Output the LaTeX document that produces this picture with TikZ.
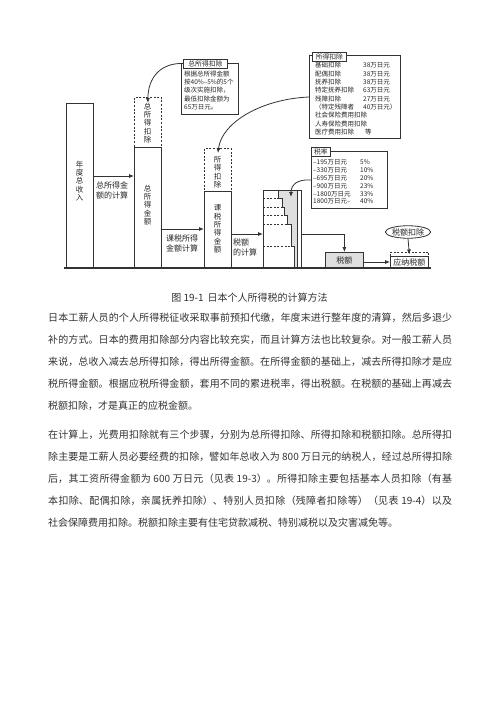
\documentclass[tikz,border=0pt]{standalone}
\usepackage{fontspec}
\setmainfont{Noto Sans CJK SC}
\usetikzlibrary{arrows.meta,shapes.geometric}
\XeTeXlinebreaklocale "zh"
\XeTeXlinebreakskip=0pt plus 1pt
\begin{document}
\begin{tikzpicture}[x=1pt,y=-1pt,
  ln/.style={draw=black!80, line width=0.8pt},
  bar/.style={ln, fill=white, inner sep=0pt, anchor=north west},
  dbar/.style={bar, dash pattern=on 2pt off 1.6pt},
  vt/.style={font=\fontsize{7.5}{8.4}\selectfont, align=center, inner sep=0pt, text=black!85},
  lbl/.style={font=\fontsize{8}{10}\selectfont, align=left, inner sep=0pt, anchor=north west, text=black!85},
  arr/.style={ln, -{Latex[length=5pt,width=4pt]}},
  small/.style={font=\fontsize{6.5}{8.33}\selectfont, align=left, inner sep=0pt, anchor=north west, text=black!85},
  tabbox/.style={ln, fill=white, font=\fontsize{6.8}{7}\selectfont, inner sep=0pt, anchor=north west, minimum height=9pt, text=black!85},
  para/.style={text width=404pt, align=justify, inner sep=0pt, anchor=north west, font=\fontsize{10}{22}\selectfont, text=black!80}
]
\useasboundingbox (0,0) rectangle (500,707);
\fill[white] (0,0) rectangle (500,707);

% bars
\node[bar, minimum width=27pt, minimum height=165pt] (bar1) at (66,103) {};
\node[dbar, minimum width=27pt, minimum height=50pt] (bar2t) at (134,97) {};
\node[bar, minimum width=27pt, minimum height=121pt] (bar2) at (134,147) {};
\node[dbar, minimum width=27pt, minimum height=43pt] (bar3t) at (204,148) {};
\node[bar, minimum width=27pt, minimum height=77pt] (bar3) at (204,191) {};
\node[bar, minimum width=38pt, minimum height=78pt] (bar4) at (263,190) {};

% staircase
\fill[gray!25] (278.7,190) -- (278.7,198.7) -- (282,198.7) -- (282,207) -- (284.7,207) -- (284.7,215.3) -- (287.3,215.3) -- (287.3,224.3) -- (291.3,224.3) -- (291.3,246) -- (294,246) -- (294,268) -- (297,268) -- (297,190) -- cycle;
\draw[ln] (278.7,190) -- (278.7,198.7) -- (282,198.7) -- (282,207) -- (284.7,207) -- (284.7,215.3) -- (287.3,215.3) -- (287.3,224.3) -- (291.3,224.3) -- (291.3,246) -- (294,246) -- (294,268);
\draw[ln] (297,190) -- (297,268);
\draw[ln] (bar4.north west) rectangle (bar4.south east);
\draw[ln, dash pattern=on 2pt off 1.6pt] (263,198.7) -- (278.7,198.7) (263,207) -- (282,207) (263,215.3) -- (284.7,215.3) (263,224.3) -- (287.3,224.3) (263,246) -- (291.3,246);
\coordinate (stairtop) at (291,190);

% bar texts
\node[vt] (t1) at (79.5,181) {年\\度\\总\\收\\入};
\node[vt] (t2a) at (147.5,123) {总\\所\\得\\扣\\除};
\node[vt] (t2b) at (147.5,205) {总\\所\\得\\金\\额};
\node[vt] (t3a) at (217.5,172) {所\\得\\扣\\除};
\node[vt] (t3b) at (217.5,229) {课\\税\\所\\得\\金\\额};

% step labels
\node[lbl] (l1) at (96,182) {总所得金\\额的计算};
\node[lbl] (l2) at (166,235) {课税所得\\金额计算};
\node[lbl] (l3) at (233,239) {税额\\的计算};

% arrows between bars
\draw[arr] (bar1.east |- 0,176) -- (bar2.west |- 0,176);
\draw[arr] (bar2.east |- 0,229) -- (bar3.west |- 0,229);
\draw[arr] (bar3.east |- 0,234) -- (bar4.west |- 0,234);

% info box 1
\node[bar, minimum width=57pt, minimum height=51pt] (info1) at (181,63) {};
\node[tabbox, minimum width=44pt] (tab1) at (183,58.5) {总所得扣除};
\node[small] (info1t) at (184,70.6) {根据总所得金额\\按40\%–5\%的5个\\级次实施扣除，\\最低扣除金额为\\65万日元。};

% info box 2
\node[bar, minimum width=91pt, minimum height=83pt] (info2) at (309,55) {};
\node[tabbox, minimum width=34pt] (tab2) at (312,52) {所得扣除};
\node[small] (info2t) at (315,62.2) {\makebox[48pt][l]{基础扣除}38万日元\\
\makebox[48pt][l]{配偶扣除}38万日元\\
\makebox[48pt][l]{抚养扣除}38万日元\\
\makebox[48pt][l]{特定抚养扣除}63万日元\\
\makebox[48pt][l]{残障扣除}27万日元\\
\makebox[48pt][l]{（特定残障者}40万日元）\\
社会保险费用扣除\\
人寿保险费用扣除\\
\makebox[50pt][l]{医疗费用扣除}等};

% info box 3
\node[bar, minimum width=76pt, minimum height=57pt] (info3) at (311,151) {};
\node[tabbox, minimum width=19pt] (tab3) at (311,147) {税率};
\node[small, font=\fontsize{6.5}{7.8}\selectfont] (info3t) at (313,159.7) {\makebox[47pt][l]{–195万日元}5\%\\
\makebox[47pt][l]{–330万日元}10\%\\
\makebox[47pt][l]{–695万日元}20\%\\
\makebox[47pt][l]{–900万日元}23\%\\
\makebox[47pt][l]{–1800万日元}33\%\\
\makebox[47pt][l]{1800万日元–}40\%};

% curved arrows
\draw[arr] (tab1.west) .. controls (160,63) and (148,78) .. ([yshift=-6pt]bar2t.north);
\draw[arr] (info2.west |- 0,97) .. controls (262,99) and (222,122) .. ([yshift=-5pt]bar3t.north);
\draw[arr] (info3.west |- 0,180) .. controls (297,179) and (291,185) .. ([yshift=-7pt]stairtop);

% tax boxes
\node[ln, fill=gray!25, minimum width=38pt, minimum height=16pt, inner sep=0pt, anchor=north west, font=\fontsize{8}{8}\selectfont, text=black!85] (tax) at (325,252) {税额};
\node[dbar, minimum width=38pt, minimum height=5pt] (duetop) at (390,251.5) {};
\node[ln, fill=white, minimum width=38pt, minimum height=12pt, inner sep=0pt, anchor=north west, font=\fontsize{8}{8}\selectfont, text=black!85] (due) at (390,256) {应纳税额};
\node[ln, ellipse, minimum width=44pt, minimum height=12.5pt, inner sep=0pt, font=\fontsize{8}{8}\selectfont, text=black!85] (ded) at (408,232) {税额扣除};

\draw[arr] (bar4.east |- 0,234) -| (tax.north);
\draw[arr] (tax.east |- 0,262) -- (due.west |- 0,262);
\draw[arr] (ded.south) -- ([yshift=-3pt]duetop.north);

% baseline
\coordinate (baseL) at (64,268);
\coordinate (baseR) at (431,268);
\draw[ln, line width=1.1pt] (baseL) -- (baseR);

% caption
\node[font=\fontsize{10}{12}\selectfont, inner sep=0pt, text=black!80] (cap) at (249.5,297.7) {图 19-1\hspace{4pt}日本个人所得税的计算方法};

% paragraphs
\node[para] (p1) at (48,313) {日本工薪人员的个人所得税征收采取事前预扣代缴，年度末进行整年度的清算，然后多退少\linebreak
补的方式。日本的费用扣除部分内容比较充实，而且计算方法也比较复杂。对一般工薪人员\linebreak
来说，总收入减去总所得扣除，得出所得金额。在所得金额的基础上，减去所得扣除才是应\linebreak
税所得金额。根据应税所得金额，套用不同的累进税率，得出税额。在税额的基础上再减去\linebreak
税额扣除，才是真正的应税金额。};

\node[para] (p2) at (48,430) {在计算上，光费用扣除就有三个步骤，分别为总所得扣除、所得扣除和税额扣除。总所得扣\linebreak
除主要是工薪人员必要经费的扣除，譬如年总收入为 800 万日元的纳税人，经过总所得扣除\linebreak
后，其工资所得金额为 600 万日元（见表 19-3）。所得扣除主要包括基本人员扣除（有基\linebreak
本扣除、配偶扣除，亲属抚养扣除）、特别人员扣除（残障者扣除等）（见表 19-4）以及\linebreak
社会保障费用扣除。税额扣除主要有住宅贷款减税、特别减税以及灾害减免等。};
\end{tikzpicture}
\end{document}
